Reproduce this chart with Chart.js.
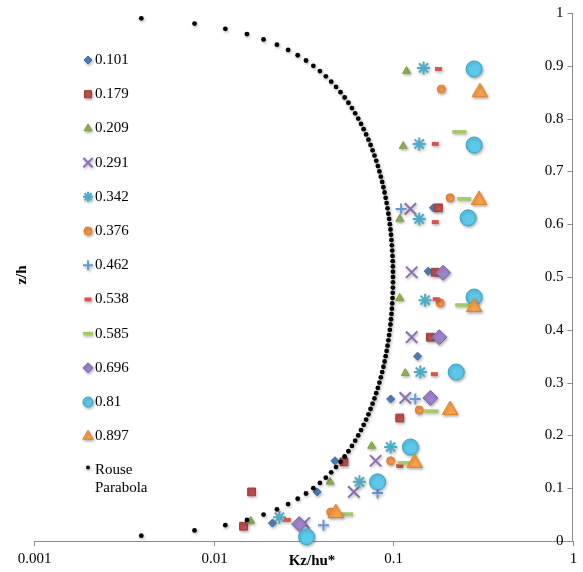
<!DOCTYPE html>
<html>
<head>
<meta charset="utf-8">
<script src="https://cdn.jsdelivr.net/npm/chart.js@4.4.1/dist/chart.umd.min.js"></script>
<style>
  html, body { margin: 0; padding: 0; background: #fff; }
  #wrap { width: 583px; height: 572px; }
</style>
</head>
<body>
<div id="wrap"><canvas id="chart" width="583" height="572"></canvas></div>
<script>
// tick labels
const xTicks = [0.001, 0.01, 0.1, 1];
const xTickLabels = ['0.001', '0.01', '0.1', '1'];
const yTickLabels = ['0', '0.1', '0.2', '0.3', '0.4', '0.5', '0.6', '0.7', '0.8', '0.9', '1'];

// series names (legend)
const seriesNames = ['0.101', '0.179', '0.209', '0.291', '0.342', '0.376', '0.462', '0.538', '0.585', '0.696', '0.81', '0.897', 'Rouse Parabola'];

// measured points: Kz/hu* (x) and z/h (y)
const kz101 = [0.168, 0.157, 0.137, 0.097, 0.0475, 0.0378, 0.0213];
const z101  = [0.631, 0.511, 0.350, 0.269, 0.152, 0.093, 0.034];
const kz179 = [0.179, 0.172, 0.1615, 0.109, 0.0533, 0.0163, 0.0147];
const z179  = [0.631, 0.509, 0.386, 0.233, 0.150, 0.093, 0.028];
const kz209 = [0.119, 0.114, 0.109, 0.109, 0.117, 0.076, 0.0446, 0.0161];
const z209  = [0.890, 0.748, 0.610, 0.460, 0.318, 0.180, 0.112, 0.038];
const kz291 = [0.125, 0.127, 0.127, 0.117, 0.080, 0.0605, 0.032];
const z291  = [0.629, 0.509, 0.386, 0.271, 0.152, 0.093, 0.034];
const kz342 = [0.148, 0.140, 0.140, 0.151, 0.142, 0.097, 0.065, 0.0233];
const z342  = [0.896, 0.752, 0.610, 0.456, 0.320, 0.178, 0.112, 0.045];
const kz376 = [0.186, 0.208, 0.183, 0.140, 0.097, 0.045];
const z376  = [0.856, 0.650, 0.451, 0.248, 0.152, 0.055];
const kz462 = [0.111, 0.133, 0.082, 0.041];
const z462  = [0.629, 0.269, 0.091, 0.030];
const kz538 = [0.179, 0.172, 0.172, 0.174, 0.170, 0.109, 0.0258];
const z538  = [0.894, 0.752, 0.604, 0.458, 0.316, 0.142, 0.040];
const kz585 = [0.234, 0.249, 0.243, 0.1635, 0.116, 0.0547];
const z585  = [0.775, 0.648, 0.447, 0.246, 0.148, 0.051];
const kz696 = [0.190, 0.181, 0.1615, 0.030];
const z696  = [0.508, 0.386, 0.271, 0.032];
const kz810 = [0.283, 0.283, 0.262, 0.283, 0.225, 0.125, 0.082, 0.033];
const z810  = [0.894, 0.750, 0.612, 0.462, 0.320, 0.178, 0.112, 0.008];
const kz897 = [0.305, 0.3015, 0.283, 0.208, 0.132, 0.048];
const z897  = [0.850, 0.646, 0.443, 0.248, 0.148, 0.053];

// Rouse parabola dots
const rouseZ = [0.01,0.02,0.03,0.04,0.05,0.06,0.07,0.08,0.09,0.10,
  0.11,0.12,0.13,0.14,0.15,0.16,0.17,0.18,0.19,0.20,
  0.21,0.22,0.23,0.24,0.25,0.26,0.27,0.28,0.29,0.30,
  0.31,0.32,0.33,0.34,0.35,0.36,0.37,0.38,0.39,0.40,
  0.41,0.42,0.43,0.44,0.45,0.46,0.47,0.48,0.49,0.50,
  0.51,0.52,0.53,0.54,0.55,0.56,0.57,0.58,0.59,0.60,
  0.61,0.62,0.63,0.64,0.65,0.66,0.67,0.68,0.69,0.70,
  0.71,0.72,0.73,0.74,0.75,0.76,0.77,0.78,0.79,0.80,
  0.81,0.82,0.83,0.84,0.85,0.86,0.87,0.88,0.89,0.90,
  0.91,0.92,0.93,0.94,0.95,0.96,0.97,0.98,0.99];
const rouseKz = [0.00396,0.00784,0.01164,0.01536,0.019,0.02256,0.02604,0.02944,0.03276,0.036,
  0.03916,0.04224,0.04524,0.04816,0.051,0.05376,0.05644,0.05904,0.06156,0.064,
  0.06636,0.06864,0.07084,0.07296,0.075,0.07696,0.07884,0.08064,0.08236,0.084,
  0.08556,0.08704,0.08844,0.08976,0.091,0.09216,0.09324,0.09424,0.09516,0.096,
  0.09676,0.09744,0.09804,0.09856,0.099,0.09936,0.09964,0.09984,0.09996,0.1,
  0.09996,0.09984,0.09964,0.09936,0.099,0.09856,0.09804,0.09744,0.09676,0.096,
  0.09516,0.09424,0.09324,0.09216,0.091,0.08976,0.08844,0.08704,0.08556,0.084,
  0.08236,0.08064,0.07884,0.07696,0.075,0.07296,0.07084,0.06864,0.06636,0.064,
  0.06156,0.05904,0.05644,0.05376,0.051,0.04816,0.04524,0.04224,0.03916,0.036,
  0.03276,0.02944,0.02604,0.02256,0.019,0.01536,0.01164,0.00784,0.00396];

const seriesKz = [kz101, kz179, kz209, kz291, kz342, kz376, kz462, kz538, kz585, kz696, kz810, kz897, rouseKz];
const seriesZ  = [z101, z179, z209, z291, z342, z376, z462, z538, z585, z696, z810, z897, rouseZ];

// marker styles (Excel-like)
const styles = [
  { pointStyle: 'rectRot',  radius: 4,   bg: '#4F81BD', border: '#3D6BA3', bw: 1, lr: 4 },
  { pointStyle: 'rect',     radius: 5.5, bg: '#C0504D', border: '#A23C39', bw: 1, lr: 5 },
  { pointStyle: 'triangle', radius: 4.5, bg: '#9BBB59', border: '#7F9F43', bw: 1, lr: 4.5 },
  { pointStyle: 'crossRot', radius: 8,   bg: '#8064A2', border: '#8A6FB0', bw: 2, lr: 6.5 },
  { pointStyle: 'star',     radius: 6.5, bg: '#4BACC6', border: '#4BACC6', bw: 2, lr: 5 },
  { pointStyle: 'circle',   radius: 4,   bg: '#F79646', border: '#DC7E30', bw: 1, lr: 4 },
  { pointStyle: 'cross',    radius: 5.5, bg: '#6A9AD4', border: '#6A9AD4', bw: 2, lr: 5 },
  { pointStyle: 'line',     radius: 3.5, bg: '#D9534F', border: '#D9534F', bw: 4, lr: 3.5 },
  { pointStyle: 'line',     radius: 7,   bg: '#A6C964', border: '#A6C964', bw: 3.5, lr: 5 },
  { pointStyle: 'rectRot',  radius: 7.5, bg: '#9C84C8', border: '#7E64A8', bw: 1, lr: 5 },
  { pointStyle: 'circle',   radius: 8,   bg: '#5CC8EA', border: '#39A5C7', bw: 1, lr: 5 },
  { pointStyle: 'triangle', radius: 9,   bg: '#F9A14A', border: '#E0852A', bw: 1, lr: 6 },
  { pointStyle: 'circle',   radius: 2.4, bg: '#000000', border: '#000000', bw: 0, lr: 2 }
];

const datasets = seriesNames.map((name, i) => ({
  label: name,
  data: seriesKz[i].map((v, j) => ({ x: v, y: seriesZ[i][j] })),
  pointStyle: styles[i].pointStyle,
  pointRadius: styles[i].radius,
  pointBackgroundColor: styles[i].bg,
  pointBorderColor: styles[i].border,
  pointBorderWidth: styles[i].bw,
  showLine: false,
  clip: false,
  order: 20 - i
}));

const serif = '"Liberation Serif", "Times New Roman", serif';

function setShadow(ctx) {
  ctx.shadowColor = 'rgba(0,0,0,0.3)';
  ctx.shadowBlur = 3;
  ctx.shadowOffsetX = 1;
  ctx.shadowOffsetY = 1.5;
}

// soft marker shadow like the Excel original
const shadow = {
  id: 'shadow',
  beforeDatasetsDraw(chart) { chart.ctx.save(); setShadow(chart.ctx); },
  afterDatasetsDraw(chart) { chart.ctx.restore(); }
};

// axes decoration, titles and legend drawn over the chart
const overlay = {
  id: 'overlay',
  afterDraw(chart) {
    const ctx = chart.ctx;
    const xs = chart.scales.x, ys = chart.scales.y;
    const area = chart.chartArea;
    ctx.save();
    ctx.strokeStyle = '#8C8C8C';
    ctx.lineWidth = 1;
    ctx.fillStyle = '#000';
    ctx.font = '15px ' + serif;

    // x ticks + labels
    ctx.textAlign = 'center';
    ctx.textBaseline = 'middle';
    xTicks.forEach((v, i) => {
      const px = Math.round(xs.getPixelForValue(v)) + 0.5;
      ctx.beginPath(); ctx.moveTo(px, area.bottom); ctx.lineTo(px, area.bottom + 5); ctx.stroke();
      ctx.fillText(xTickLabels[i], px, area.bottom + 18);
    });

    // y ticks (inside) + labels
    ctx.textAlign = 'right';
    ys.ticks.forEach((t, i) => {
      const py = Math.round(ys.getPixelForValue(t.value)) + 0.5;
      ctx.beginPath(); ctx.moveTo(area.right - 5, py); ctx.lineTo(area.right, py); ctx.stroke();
      ctx.fillText(yTickLabels[i], area.right - 9, py);
    });

    // titles
    ctx.font = 'bold 15px ' + serif;
    ctx.textAlign = 'center';
    ctx.fillText('Kz/hu*', 312, 561);
    ctx.save();
    ctx.translate(22, 275);
    ctx.rotate(-Math.PI / 2);
    ctx.fillText('z/h', 0, 0);
    ctx.restore();

    // legend
    ctx.font = '15px ' + serif;
    ctx.textAlign = 'left';
    seriesNames.forEach((name, i) => {
      const st = styles[i];
      const cy = 60 + i * 34.2;
      const lines = name.split(' ');
      const my = lines.length > 1 ? cy - 3 : cy;
      ctx.save();
      setShadow(ctx);
      ctx.fillStyle = st.bg;
      ctx.strokeStyle = st.border;
      ctx.lineWidth = st.bw;
      if (Chart.helpers && Chart.helpers.drawPoint) {
        Chart.helpers.drawPoint(ctx, { pointStyle: st.pointStyle, radius: st.lr, borderWidth: st.bw, rotation: 0 }, 88, my);
      }
      ctx.restore();
      ctx.fillStyle = '#000';
      lines.forEach((ln, k) => ctx.fillText(ln, 95, cy + k * 18));
    });
    ctx.restore();
  }
};

new Chart(document.getElementById('chart'), {
  type: 'scatter',
  data: { datasets },
  options: {
    responsive: false,
    animation: false,
    layout: { padding: { left: 34, top: 13, right: 0, bottom: 0 } },
    plugins: { legend: { display: false }, tooltip: { enabled: false } },
    scales: {
      x: {
        type: 'logarithmic',
        position: 'bottom',
        min: 0.001,
        max: 1,
        afterFit: (s) => { s.height = 31; },
        grid: { display: false },
        border: { display: true, color: '#8C8C8C' },
        ticks: { display: false }
      },
      y: {
        type: 'linear',
        position: 'right',
        min: 0,
        max: 1,
        afterFit: (s) => { s.width = 7; },
        grid: { display: false },
        border: { display: true, color: '#8C8C8C' },
        ticks: { display: false, stepSize: 0.1 }
      }
    }
  },
  plugins: [shadow, overlay]
});
</script>
</body>
</html>
